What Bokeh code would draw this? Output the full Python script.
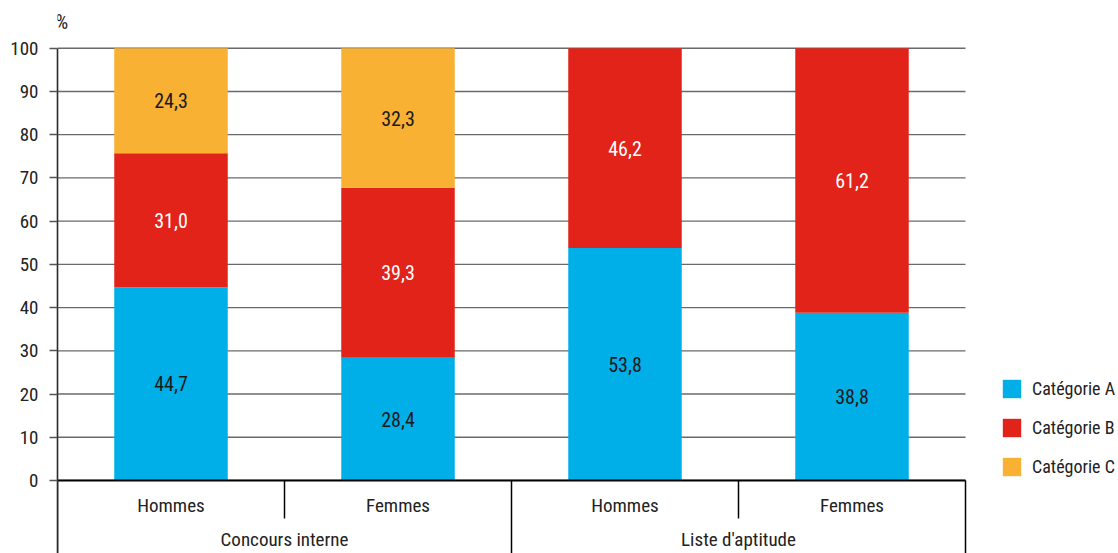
from bokeh.plotting import figure
from bokeh.models import ColumnDataSource, FixedTicker, Legend, LegendItem, Label
from bokeh.core.properties import value
from bokeh.embed import file_html
from bokeh.resources import INLINE

# ---- data ----
groups = ["Concours interne", "Liste d'aptitude"]
sexes = ["Hommes", "Femmes", "Hommes", "Femmes"]
cat_a = [44.7, 28.4, 53.8, 38.8]
cat_b = [31.0, 39.3, 46.2, 61.2]
cat_c = [24.3, 32.3, 0.0, 0.0]
series_names = ["Catégorie A", "Catégorie B", "Catégorie C"]
y_ticks = [0, 10, 20, 30, 40, 50, 60, 70, 80, 90, 100]

# ---- styles ----
FONT = "Roboto Condensed, DejaVu Sans Condensed, Roboto"
colors = ["#00AFE8", "#E2231A", "#F8B133"]
text_colors = ["#1a1a1a", "#ffffff", "#1a1a1a"]
Y_MIN, Y_MAX = -16.9, 109.2
n = len(sexes)
PX_PER_CAT = 227.0
FRAME_W = 1118 - 57
X_MAX = FRAME_W / PX_PER_CAT

p = figure(width=1118, height=553, x_range=(0, X_MAX), y_range=(Y_MIN, Y_MAX),
           output_backend="svg", toolbar_location=None, x_axis_location=None,
           min_border_left=57, min_border_right=0, min_border_top=8,
           min_border_bottom=0)
p.title = None
p.outline_line_color = None
p.xgrid.visible = False
p.ygrid.visible = False

ax = p.yaxis[0]
ax.ticker = FixedTicker(ticks=y_ticks)
ax.bounds = (Y_MIN, 100)
ax.axis_line_color = "#2a2a2a"
ax.axis_line_width = 1.6
ax.major_tick_out = 8
ax.major_tick_in = 0
ax.major_tick_line_color = "#555555"
ax.major_tick_line_width = 1.3
ax.minor_tick_line_color = None
ax.major_label_text_font = FONT
ax.major_label_text_font_size = "19px"
ax.major_label_text_color = "#222222"
ax.major_label_standoff = 11

# horizontal grid lines spanning the categories only
p.segment(x0=[0] * len(y_ticks), y0=y_ticks, x1=[n] * len(y_ticks), y1=y_ticks,
          line_color="#6a6a6a", line_width=1.3)

xs = [i + 0.5 for i in range(n)]
series = [cat_a, cat_b, cat_c]
bottoms = [0.0] * n
renderers = []
for k, vals in enumerate(series):
    tops = [b + v for b, v in zip(bottoms, vals)]
    src = ColumnDataSource(dict(x=xs, bottom=bottoms, top=tops))
    r = p.vbar(x="x", width=0.5, bottom="bottom", top="top", source=src,
               fill_color=colors[k], line_color=None)
    renderers.append(r)
    lx, ly, lt = [], [], []
    for x, b, v in zip(xs, bottoms, vals):
        if v > 0:
            lx.append(x)
            ly.append(b + v / 2)
            lt.append(f"{v:.1f}".replace(".", ","))
    p.text(x=lx, y=ly, text=lt, text_font=value(FONT), text_font_size="20px",
           text_color=text_colors[k], text_align="center", text_baseline="middle")
    bottoms = tops

# x axis line at 0
p.segment(x0=[0], y0=[0], x1=[n], y1=[0], line_color="#000000", line_width=2)

# category table separators
per_group = n // len(groups)
inner = [i for i in range(1, n) if i % per_group != 0]
outer = [i for i in range(0, n + 1) if i % per_group == 0]
p.segment(x0=inner, y0=[0] * len(inner), x1=inner, y1=[-8.8] * len(inner),
          line_color="#000000", line_width=1.5)
p.segment(x0=outer, y0=[0] * len(outer), x1=outer, y1=[Y_MIN] * len(outer),
          line_color="#000000", line_width=1.5)

p.text(x=xs, y=[-5.7] * n, text=sexes, text_font=value(FONT), text_font_size="19px",
       text_color="#222222", text_align="center", text_baseline="middle")
gx = [g * per_group + per_group / 2 for g in range(len(groups))]
p.text(x=gx, y=[-13.6] * len(groups), text=groups, text_font=value(FONT),
       text_font_size="19px", text_color="#222222", text_align="center",
       text_baseline="middle")

p.add_layout(Label(x=0, y=106, text="%", x_offset=-2, text_font=FONT,
                   text_font_size="20px", text_color="#222222",
                   text_baseline="middle", text_align="left"))

legend = Legend(items=[LegendItem(label=series_names[k], renderers=[renderers[k]])
                       for k in range(3)],
                location=(943, 75), orientation="vertical",
                glyph_width=23, glyph_height=23, label_height=23, spacing=16,
                label_standoff=9, padding=0, margin=0,
                border_line_color=None, background_fill_alpha=0,
                label_text_font=FONT, label_text_font_size="18px",
                label_text_color="#222222")
p.add_layout(legend)

open("out.html", "w").write(file_html(p, INLINE))
